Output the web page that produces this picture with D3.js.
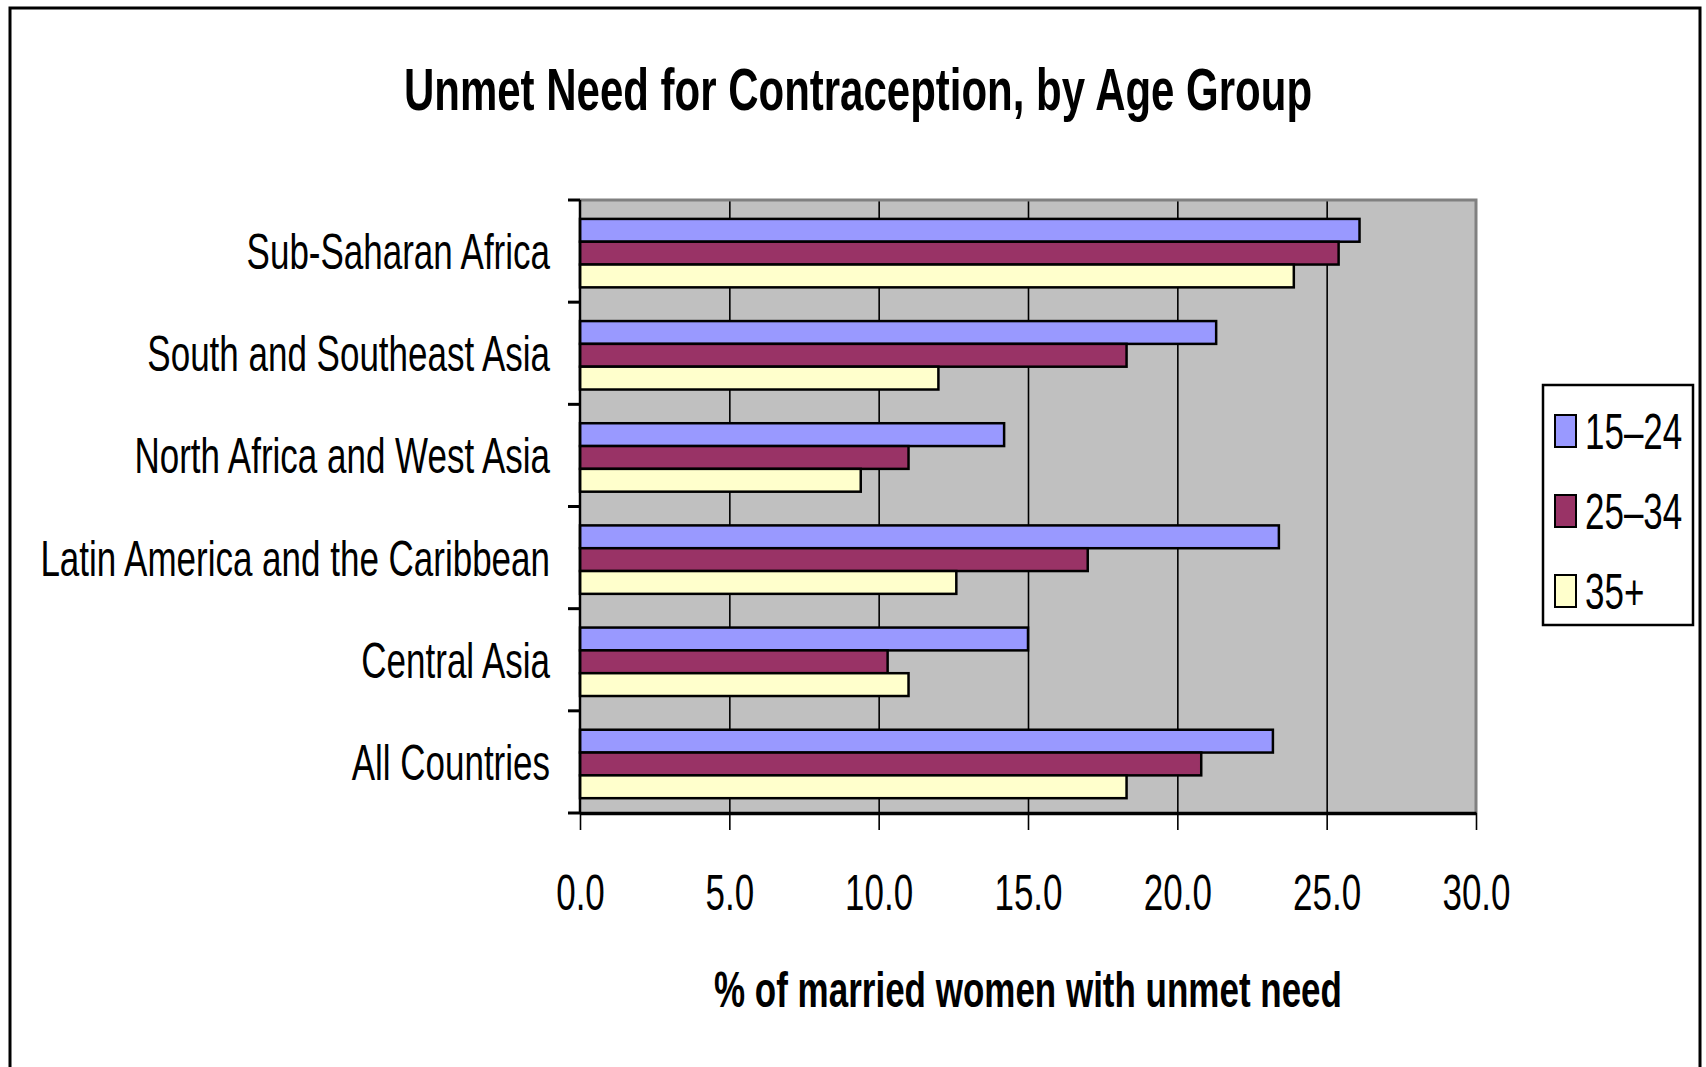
<!DOCTYPE html>
<html>
<head>
<meta charset="utf-8">
<script src="https://cdn.jsdelivr.net/npm/d3@7/dist/d3.min.js"></script>
<style>
  html, body { margin: 0; padding: 0; background: #ffffff; }
  svg { display: block; }
  text { font-family: "Liberation Sans", Arial, sans-serif; fill: #000; }
</style>
</head>
<body>
<svg id="chart" width="1706" height="1067"></svg>
<script>
// ---- data ----
const categories = [
  "Sub-Saharan Africa",
  "South and Southeast Asia",
  "North Africa and West Asia",
  "Latin America and the Caribbean",
  "Central Asia",
  "All Countries"
];
const seriesNames = ["15–24", "25–34", "35+"];
const age15to24 = [26.1, 21.3, 14.2, 23.4, 15.0, 23.2];
const age25to34 = [25.4, 18.3, 11.0, 17.0, 10.3, 20.8];
const age35plus = [23.9, 12.0, 9.4, 12.6, 11.0, 18.3];
const xTickValues = [0, 5, 10, 15, 20, 25, 30];
const titleText = "Unmet Need for Contraception, by Age Group";
const xAxisTitle = "% of married women with unmet need";

// ---- styling ----
const colors = ["#9999FF", "#993366", "#FFFFCC"];
const SX = 0.70; // horizontal condensation of all text

const svg = d3.select("#chart");
const plot = { left: 580, right: 1476, top: 200, bottom: 813 };

// outer frame (bottom edge lies outside the picture)
svg.append("rect")
  .attr("x", 10).attr("y", 8)
  .attr("width", 1690).attr("height", 1100)
  .attr("fill", "none").attr("stroke", "#000").attr("stroke-width", 3);

const x = d3.scaleLinear().domain([0, 30]).range([plot.left, plot.right]);
const y = d3.scaleBand().domain(categories).range([plot.top, plot.bottom]).padding(0);
const yInner = d3.scaleBand().domain(seriesNames)
  .range([y.bandwidth() * 0.185, y.bandwidth() * 0.855]).padding(0);

// plot background
svg.append("rect")
  .attr("x", plot.left).attr("y", plot.top)
  .attr("width", plot.right - plot.left).attr("height", plot.bottom - plot.top)
  .attr("fill", "#C0C0C0");

// gridlines
const grid = svg.append("g")
  .attr("transform", `translate(0,${plot.bottom})`)
  .call(d3.axisBottom(x).tickValues(xTickValues.filter(v => v > 0 && v < 30))
    .tickSize(-(plot.bottom - plot.top)).tickFormat(""));
grid.select(".domain").remove();
grid.selectAll("line").attr("stroke", "#000").attr("stroke-width", 1.6);

// top & right plot border (grey)
svg.append("path")
  .attr("d", `M${plot.left},${plot.top}H${plot.right}V${plot.bottom}`)
  .attr("fill", "none").attr("stroke", "#808080").attr("stroke-width", 3);

// bars
const rows = categories.map((c, i) => ({
  cat: c,
  values: [age15to24[i], age25to34[i], age35plus[i]]
}));
const groups = svg.append("g").selectAll("g")
  .data(rows).join("g")
  .attr("transform", d => `translate(0,${y(d.cat)})`);
groups.selectAll("rect")
  .data(d => d.values.map((v, j) => ({ v, s: seriesNames[j], j })))
  .join("rect")
  .attr("x", x(0))
  .attr("y", d => yInner(d.s))
  .attr("width", d => x(d.v) - x(0))
  .attr("height", yInner.bandwidth())
  .attr("fill", d => colors[d.j])
  .attr("stroke", "#000").attr("stroke-width", 2.5);

// x axis
const xAxis = svg.append("g")
  .attr("transform", `translate(0,${plot.bottom})`)
  .call(d3.axisBottom(x).tickValues(xTickValues).tickFormat(d3.format(".1f"))
    .tickSizeInner(17).tickSizeOuter(0));
xAxis.select(".domain").attr("stroke", "#000").attr("stroke-width", 3.5);
xAxis.selectAll("line").attr("stroke", "#000").attr("stroke-width", 1.6);
xAxis.selectAll("text")
  .attr("y", 97).attr("dy", 0)
  .attr("transform", `scale(${SX},1)`)
  .style("font-family", "'Liberation Sans', Arial, sans-serif")
  .style("font-size", "50px").attr("fill", "#000");

// y axis: line, ticks at band boundaries, labels at band centres
svg.append("line")
  .attr("x1", plot.left).attr("x2", plot.left)
  .attr("y1", plot.top).attr("y2", plot.bottom + 1)
  .attr("stroke", "#000").attr("stroke-width", 2.5);
const boundaries = categories.map(c => y(c)).concat([plot.bottom]);
svg.append("g").selectAll("line").data(boundaries).join("line")
  .attr("x1", plot.left - 12).attr("x2", plot.left)
  .attr("y1", d => d).attr("y2", d => d)
  .attr("stroke", "#000").attr("stroke-width", 3);

const yAxis = svg.append("g")
  .attr("transform", `translate(${plot.left},0)`)
  .call(d3.axisLeft(y).tickSize(0).tickPadding(0));
yAxis.select(".domain").remove();
yAxis.selectAll("text")
  .attr("x", 0).attr("dy", "0.36em")
  .attr("transform", `translate(-30,0) scale(${SX},1)`)
  .attr("text-anchor", "end")
  .style("font-family", "'Liberation Sans', Arial, sans-serif")
  .style("font-size", "50px").attr("fill", "#000");

// title
svg.append("text")
  .attr("transform", `translate(858,110) scale(${SX},1)`)
  .attr("text-anchor", "middle")
  .style("font-size", "60px").style("font-weight", "bold")
  .text(titleText);

// x axis title
svg.append("text")
  .attr("transform", `translate(${(plot.left + plot.right) / 2},1007) scale(${SX},1)`)
  .attr("text-anchor", "middle")
  .style("font-size", "50px").style("font-weight", "bold")
  .text(xAxisTitle);

// legend
const legend = svg.append("g");
legend.append("rect")
  .attr("x", 1543).attr("y", 385).attr("width", 150).attr("height", 240)
  .attr("fill", "#fff").attr("stroke", "#000").attr("stroke-width", 2.5);
const legendY = d3.scalePoint().domain(seriesNames).range([431, 591]);
const items = legend.selectAll("g.item").data(seriesNames).join("g")
  .attr("class", "item")
  .attr("transform", d => `translate(0,${legendY(d)})`);
items.append("rect")
  .attr("x", 1555).attr("y", -16).attr("width", 21).attr("height", 32)
  .attr("fill", (d, i) => colors[i]).attr("stroke", "#000").attr("stroke-width", 2);
items.append("text")
  .attr("transform", `translate(1585,0) scale(${SX},1)`)
  .attr("dy", "0.36em")
  .style("font-size", "50px")
  .text(d => d);
</script>
</body>
</html>
